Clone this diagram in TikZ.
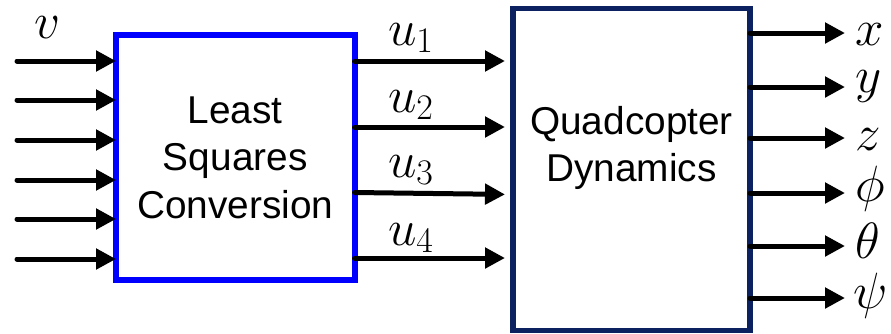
\RequirePackage{fix-cm}
\documentclass[tikz,border=0pt]{standalone}
\usepackage[no-math]{fontspec}
\setmainfont{Liberation Sans}
\usetikzlibrary{arrows.meta}
\DeclareMathSizes{51}{51}{36}{28}
\definecolor{navy}{HTML}{0C2260}
\definecolor{pureblue}{HTML}{0000FF}
\begin{document}
\begin{tikzpicture}[x=1pt,y=-1pt,
  arr/.style={line width=5pt,line cap=round,-{Triangle[length=20pt,width=20pt]}},
  blockbox/.style={draw,line width=6pt,inner sep=0pt,outer sep=0pt,align=center,
    font=\fontsize{38.8}{47.5}\selectfont},
  lbl/.style={inner sep=0pt,outer sep=0pt,font=\fontsize{51}{60}\selectfont}]
\useasboundingbox (0,0) rectangle (891,333);

% blocks
\node[blockbox,draw=pureblue,minimum width=238.5pt,minimum height=245.5pt] (lsc)
  at (235.25,157.4) {Least\\Squares\\Conversion};
\node[blockbox,draw=navy,line width=5.5pt,minimum width=237pt,minimum height=322pt] (qd)
  at (631.5,169.5) {Quadcopter\\Dynamics\\[4pt]};

% inputs
\foreach \i/\yy in {1/61,2/100,3/140,4/180,5/219,6/259}{
  \coordinate (in\i) at (17,\yy);
  \draw[arr] (in\i) -- (in\i -| lsc.west);
}
\node[lbl,anchor=base west] (v) at (34,38) {$v$};

% intermediate signals
\coordinate (m1) at (0,61);
\coordinate (m2) at (0,127);
\coordinate (m3a) at (0,192.5);
\coordinate (m3b) at (0,194.5);
\coordinate (m4) at (0,258);
\draw[arr,shorten >=8pt] (m1 -| lsc.east) -- (m1 -| qd.west);
\draw[arr,shorten >=8pt] (m2 -| lsc.east) -- (m2 -| qd.west);
\draw[arr,shorten >=8pt] (m3a -| lsc.east) -- (m3b -| qd.west);
\draw[arr,shorten >=8pt] (m4 -| lsc.east) -- (m4 -| qd.west);
\node[lbl,anchor=base west] (u1) at (388,45) {$u_1$};
\node[lbl,anchor=base west] (u2) at (388,112) {$u_2$};
\node[lbl,anchor=base west] (u3) at (388,177) {$u_3$};
\node[lbl,anchor=base west] (u4) at (388,245) {$u_4$};

% outputs
\foreach \i/\yy in {1/33,2/87,3/138,4/193,5/246,6/298}{
  \coordinate (o\i) at (845,\yy);
  \draw[arr] (o\i -| qd.east) -- (o\i);
}
\node[lbl,anchor=base west] (ox) at (855,45) {$x$};
\node[lbl,anchor=base west] (oy) at (855,92) {$y$};
\node[lbl,anchor=base west] (oz) at (855,150) {$z$};
\node[lbl,anchor=base west] (ophi) at (855,201) {$\phi$};
\node[lbl,anchor=base west] (oth) at (855,258) {$\theta$};
\node[lbl,anchor=base west] (ops) at (853,308) {$\psi$};
\end{tikzpicture}
\end{document}
